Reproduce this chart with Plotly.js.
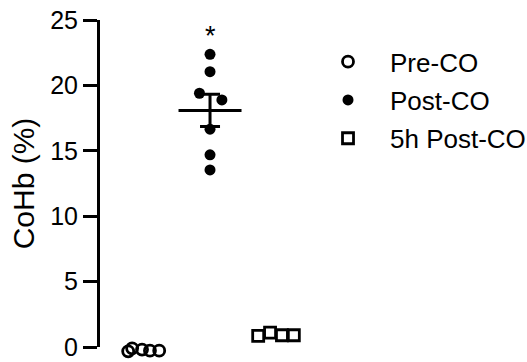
<!DOCTYPE html>
<html>
<head>
<meta charset="utf-8">
<script src="https://cdn.plot.ly/plotly-3.0.1.min.js"></script>
<style>html,body{margin:0;padding:0;background:#fff;}#chart{width:527px;height:362px;}</style>
</head>
<body>
<div id="chart"></div>
<script>
// Group names and positions
var groups = ["Pre-CO", "Post-CO", "5h Post-CO"];
var groupPos = [1, 2, 3];

// CoHb (%) values
var preCO = [-0.33, -0.1, -0.2, -0.28, -0.28];
var postCO = [22.38, 21.05, 19.40, 18.89, 16.65, 14.69, 13.54];
var post5h = [0.85, 1.1, 0.9, 0.9];

// horizontal scatter offsets of the points within each group
var preOffsets = [-0.24, -0.18, -0.03, 0.09, 0.23];
var postOffsets = [0, 0, -0.16, 0.18, 0, 0, 0];
var post5hOffsets = [-0.27, -0.09, 0.09, 0.27];

var yTicks = [0, 5, 10, 15, 20, 25];
var yMax = 25;
var sigLabel = "*";
var sigY = 23.8;

function mean(a){ return a.reduce(function(s,v){return s+v;},0)/a.length; }
function sem(a){ var m = mean(a); var ss = a.reduce(function(s,v){return s+(v-m)*(v-m);},0); return Math.sqrt(ss/(a.length-1))/Math.sqrt(a.length); }
function xs(pos, offs){ return offs.map(function(o){ return pos + o; }); }

var font = "Liberation Sans, Arial, sans-serif";

// geometry: plot area height and where the visible axis starts
var H = 362, mT = 20, mB = 10;
var plotH = H - mT - mB;
var axisBottomPx = 5;                       // visible axis begins 5 px above plot bottom
var dom0 = axisBottomPx / plotH;
var pxPerUnit = (plotH - axisBottomPx) / yMax;
var y2Min = -axisBottomPx / pxPerUnit;      // data axis with same scale, reaching a bit below 0

var traces = [
  // empty trace so that the visible y axis gets drawn
  {type: "scatter", mode: "markers", x: [], y: [], showlegend: false, hoverinfo: "skip", yaxis: "y"},
  {
    type: "scatter", mode: "markers", name: groups[0], legendgroup: "a", yaxis: "y2",
    x: xs(groupPos[0], preOffsets), y: preCO, cliponaxis: false,
    marker: {symbol: "circle-open", size: 11, color: "#000", line: {width: 2.8, color: "#000"}}
  },
  {
    type: "scatter", mode: "markers", name: groups[1], legendgroup: "b", yaxis: "y2",
    x: xs(groupPos[1], postOffsets), y: postCO, cliponaxis: false,
    marker: {symbol: "circle", size: 11, color: "#000"}
  },
  {
    type: "scatter", mode: "markers", name: groups[2], legendgroup: "c", yaxis: "y2",
    x: xs(groupPos[2], post5hOffsets), y: post5h, cliponaxis: false,
    marker: {symbol: "square-open", size: 11, color: "#000", line: {width: 2.8, color: "#000"}}
  },
  {
    type: "scatter", mode: "markers", showlegend: false, hoverinfo: "skip", yaxis: "y2",
    x: [groupPos[1]], y: [mean(postCO)], cliponaxis: false,
    marker: {symbol: "line-ew", size: 45, color: "#000", line: {width: 3, color: "#000"}},
    error_y: {type: "data", array: [sem(postCO)], visible: true, color: "#000", thickness: 3, width: 10}
  }
];

var layout = {
  width: 527, height: H,
  margin: {l: 100, r: 217, t: mT, b: mB, autoexpand: false},
  paper_bgcolor: "#fff", plot_bgcolor: "rgba(0,0,0,0)",
  font: {family: font, color: "#000", size: 22},
  showlegend: true,
  xaxis: {range: [0.333, 3.515], visible: false, showgrid: false, zeroline: false},
  yaxis: {
    domain: [dom0, 1], anchor: "x",
    range: [0, yMax], tickvals: yTicks, ticktext: yTicks.map(String),
    showline: true, linewidth: 3, linecolor: "#000",
    ticks: "outside", ticklen: 14, tickwidth: 3, tickcolor: "#000",
    showgrid: false, zeroline: false,
    tickfont: {family: font, size: 25, color: "#000"},
    title: {text: "CoHb (%)", font: {family: font, size: 30, color: "#000"}, standoff: 7}
  },
  yaxis2: {
    domain: [0, 1], anchor: "x", range: [y2Min, yMax], visible: false,
    showgrid: false, zeroline: false
  },
  legend: {
    x: 0.981, y: 0.945, xanchor: "left", yanchor: "top",
    itemwidth: 74, traceorder: "grouped", tracegroupgap: 1.5,
    font: {family: font, size: 26, color: "#000"},
    bgcolor: "rgba(0,0,0,0)", borderwidth: 0
  },
  annotations: [{
    x: groupPos[1], y: sigY, xref: "x", yref: "y2", text: sigLabel, showarrow: false,
    font: {family: font, size: 27, color: "#000"}
  }]
};

Plotly.newPlot("chart", traces, layout, {staticPlot: true, displayModeBar: false});
</script>
</body>
</html>
